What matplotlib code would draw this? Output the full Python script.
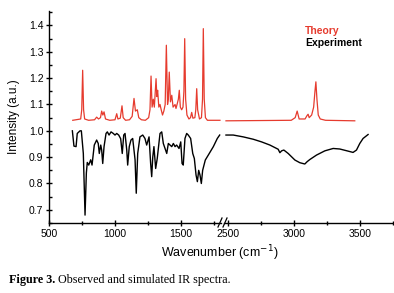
import matplotlib.pyplot as plt
import numpy as np
from matplotlib.ticker import MultipleLocator

plt.rcParams['font.family'] = ['Liberation Sans', 'DejaVu Sans']

# Theory (simulated) spectrum, low-wavenumber part
theory_lo_w = [680, 740, 748, 755, 762, 770, 800, 845, 861, 875, 890, 899, 908, 917, 928,
               960, 1000, 1013, 1022, 1040, 1053, 1062, 1080, 1110, 1130, 1144, 1155, 1169,
               1180, 1200, 1230, 1255, 1265, 1273, 1281, 1290, 1298, 1311, 1317, 1323, 1332,
               1341, 1350, 1360, 1370, 1380, 1389, 1398, 1404, 1411, 1420, 1430, 1440, 1455,
               1462, 1470, 1480, 1487, 1495, 1505, 1515, 1522, 1528, 1535, 1545, 1560, 1572,
               1581, 1590, 1605, 1612, 1619, 1626, 1640, 1655, 1663, 1669, 1676, 1685, 1700, 1795]
theory_lo_i = [1.040, 1.045, 1.08, 1.230, 1.08, 1.045, 1.040, 1.042, 1.052, 1.045, 1.05, 1.075,
               1.06, 1.072, 1.045, 1.040, 1.042, 1.065, 1.045, 1.048, 1.095, 1.05, 1.040, 1.042,
               1.055, 1.123, 1.075, 1.080, 1.05, 1.042, 1.040, 1.05, 1.08, 1.208, 1.09, 1.120,
               1.09, 1.198, 1.13, 1.154, 1.09, 1.10, 1.08, 1.06, 1.075, 1.1, 1.325, 1.1, 1.12,
               1.223, 1.11, 1.135, 1.09, 1.10, 1.085, 1.1, 1.12, 1.154, 1.09, 1.08, 1.09, 1.15,
               1.350, 1.12, 1.06, 1.045, 1.05, 1.070, 1.048, 1.05, 1.08, 1.160, 1.08, 1.045,
               1.05, 1.12, 1.388, 1.12, 1.05, 1.040, 1.040]

# Theory, high-wavenumber part
theory_hi_w = [2485, 2980, 3010, 3025, 3040, 3085, 3100, 3108, 3116, 3135, 3150, 3160, 3167,
               3175, 3185, 3200, 3240, 3462]
theory_hi_i = [1.038, 1.040, 1.05, 1.075, 1.045, 1.045, 1.058, 1.063, 1.05, 1.06, 1.09, 1.15,
               1.186, 1.12, 1.06, 1.045, 1.04, 1.038]

# Experiment, low-wavenumber part
exp_lo_w = [677, 689, 705, 714, 735, 745, 760, 773, 783, 790, 801, 816, 826, 843, 861, 873, 881,
            892, 899, 907, 917, 932, 942, 955, 970, 987, 1000, 1013, 1028, 1043, 1055, 1066,
            1076, 1089, 1096, 1108, 1121, 1134, 1152, 1161, 1172, 1189, 1210, 1227, 1240, 1258,
            1270, 1278, 1286, 1295, 1308, 1320, 1341, 1354, 1366, 1379, 1392, 1404, 1417, 1430,
            1442, 1455, 1467, 1485, 1498, 1508, 1517, 1530, 1543, 1555, 1573, 1589, 1601, 1614,
            1624, 1634, 1644, 1654, 1664, 1684, 1714, 1745, 1775, 1793]
exp_lo_i = [1.000, 0.942, 0.940, 0.990, 1.000, 1.000, 0.914, 0.680, 0.840, 0.880, 0.870, 0.890,
            0.870, 0.946, 0.965, 0.952, 0.914, 0.946, 0.927, 0.876, 0.940, 0.990, 0.996, 0.984,
            0.996, 0.990, 0.984, 0.990, 0.984, 0.970, 0.914, 0.984, 0.990, 0.927, 0.870, 0.940,
            0.965, 0.971, 0.890, 0.763, 0.914, 0.977, 0.984, 0.971, 0.946, 0.977, 0.876, 0.826,
            0.900, 0.940, 0.857, 0.895, 0.990, 0.996, 0.952, 0.933, 0.914, 0.952, 0.946, 0.940,
            0.952, 0.940, 0.946, 0.933, 0.958, 0.876, 0.870, 0.971, 0.990, 0.984, 0.971, 0.914,
            0.895, 0.832, 0.807, 0.850, 0.832, 0.800, 0.850, 0.889, 0.914, 0.940, 0.971, 0.984]

# Experiment, high-wavenumber part
exp_hi_w = [2485, 2540, 2616, 2692, 2755, 2818, 2881, 2894, 2907, 2924, 2957, 3008, 3045, 3083,
            3101, 3121, 3172, 3235, 3298, 3348, 3411, 3449, 3475, 3500, 3525, 3563]
exp_hi_i = [0.984, 0.984, 0.977, 0.968, 0.958, 0.946, 0.930, 0.917, 0.924, 0.927, 0.914, 0.889,
            0.879, 0.874, 0.883, 0.891, 0.908, 0.924, 0.933, 0.931, 0.923, 0.918, 0.927, 0.952,
            0.971, 0.986]

red = '#e63b2e'

fig = plt.figure(figsize=(3.94, 2.93), dpi=100)
W, H = 394, 293
bottom = 1 - 223 / H
height = (223 - 11) / H
ax1 = fig.add_axes([49 / W, bottom, (221 - 49) / W, height])
ax2 = fig.add_axes([224 / W, bottom, (393 - 224) / W, height])

ax1.plot(theory_lo_w, theory_lo_i, color=red, lw=0.9)
ax1.plot(exp_lo_w, exp_lo_i, color='black', lw=1.0)
ax2.plot(theory_hi_w, theory_hi_i, color=red, lw=0.9)
ax2.plot(exp_hi_w, exp_hi_i, color='black', lw=1.0)

ax1.set_xlim(500, 1803)
ax2.set_xlim(2470, 3752)
for ax in (ax1, ax2):
    ax.set_ylim(0.65, 1.455)
    ax.spines['top'].set_visible(False)
    ax.spines['right'].set_visible(False)
    ax.spines['bottom'].set_linewidth(1.0)
    ax.xaxis.set_major_locator(MultipleLocator(500))
    ax.xaxis.set_minor_locator(MultipleLocator(250))
    ax.tick_params(axis='x', which='major', direction='inout', length=4, width=1, labelsize=7.5, pad=2)
    ax.tick_params(axis='x', which='minor', direction='inout', length=2.5, width=1)

ax1.spines['left'].set_linewidth(1.0)
ax1.yaxis.set_major_locator(MultipleLocator(0.1))
ax1.yaxis.set_minor_locator(MultipleLocator(0.05))
ax1.tick_params(axis='y', which='major', direction='inout', length=4, width=1, labelsize=7.5, pad=2)
ax1.tick_params(axis='y', which='minor', direction='in', length=2.5, width=1)
ax1.set_ylabel('Intensity (a.u.)', fontsize=8.5, labelpad=6)

ax2.spines['left'].set_visible(False)
ax2.tick_params(axis='y', which='both', left=False, labelleft=False)

# break marks
yb = 1 - 223 / H
for xb in (218, 223):
    fig.add_artist(plt.Line2D([xb / W, (xb + 4) / W], [yb - 4 / H, yb + 5 / H],
                              color='black', lw=0.9))

fig.text(220 / W, 1 - 253 / H, 'Wavenumber (cm$^{-1}$)', ha='center', va='center', fontsize=9)

fig.text(305 / W, 1 - 31 / H, 'Theory', color=red, fontsize=7.5, fontweight='bold', va='center')
fig.text(305 / W, 1 - 43 / H, 'Experiment', color='black', fontsize=7.5, fontweight='bold', va='center')

# caption
cap1 = fig.text(9 / W, 1 - 280 / H, 'Figure 3.', fontsize=8.7, fontweight='bold', va='center',
                family='Liberation Serif')
fig.canvas.draw()
bb = cap1.get_window_extent()
fig.text(bb.x1 / W + 3 / W, 1 - 280 / H, 'Observed and simulated IR spectra.', fontsize=8.7,
         va='center', family='Liberation Serif')

fig.savefig('out.png', dpi=100)
